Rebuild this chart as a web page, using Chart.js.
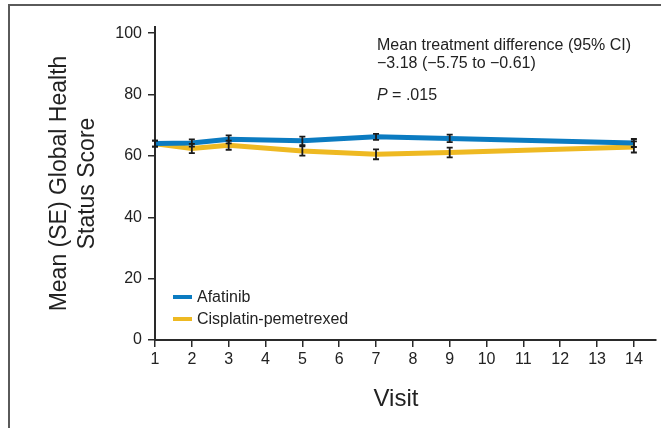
<!DOCTYPE html>
<html>
<head>
<meta charset="utf-8">
<script src="https://cdn.jsdelivr.net/npm/chart.js@4"></script>
<style>
  html, body { margin: 0; padding: 0; background: #fff; }
  #wrap { position: relative; width: 661px; height: 428px; font-family: "Liberation Sans", Arial, sans-serif; color: #222; }
  #chart { position: absolute; left: 0; top: 0; }
  .note { position: absolute; left: 377px; font-size: 16px; line-height: 18px; white-space: nowrap; }
  .leg { position: absolute; left: 173px; font-size: 16px; line-height: 18px; white-space: nowrap; }
  .leg i { display: inline-block; width: 19px; height: 4px; vertical-align: middle; margin-right: 5px; margin-top: -2px; }
  #xtitle { position: absolute; top: 384px; left: 346px; width: 100px; text-align: center; font-size: 24px; line-height: 28px; }
</style>
</head>
<body>
<div id="wrap">
  <canvas id="chart" width="661" height="428"></canvas>
  <div class="note" style="top: 36px;">Mean treatment difference (95% CI)</div>
  <div class="note" style="top: 54px;">&minus;3.18 (&minus;5.75 to &minus;0.61)</div>
  <div class="note" style="top: 86px;"><span style="font-style: italic;">P</span> = .015</div>
  <div class="leg" style="top: 288px;"><i style="background: #0b7bc1;"></i>Afatinib</div>
  <div class="leg" style="top: 310px;"><i style="background: #eeb922;"></i>Cisplatin-pemetrexed</div>
  <div id="xtitle">Visit</div>
</div>
<script>
// visits where the questionnaire was scored
const visits = [1, 2, 3, 5, 7, 9, 14];
const afatinibMean = [64.0, 64.2, 65.4, 64.9, 66.2, 65.7, 64.2];
const afatinibSE = [1.0, 1.2, 1.3, 1.4, 1.0, 1.2, 1.3];
const cisplatinMean = [64.0, 62.4, 63.5, 61.6, 60.5, 61.1, 62.9];
const cisplatinSE = [1.0, 1.5, 1.5, 1.5, 1.6, 1.6, 1.8];
const xTicks = [1, 2, 3, 4, 5, 6, 7, 8, 9, 10, 11, 12, 13, 14];
const yTicks = [0, 20, 40, 60, 80, 100];

const blue = "#0b7bc1";
const yellow = "#eeb922";
const axisColor = "#2a2a2a";

const toPoints = (xs, ys) => xs.map((x, i) => ({ x: x, y: ys[i] }));

// SE whiskers, drawn through the chart scales
const errorBars = {
  id: "errorBars",
  afterDatasetsDraw(chart) {
    const ctx = chart.ctx;
    const xs = chart.scales.x, ys = chart.scales.y;
    const sets = [[afatinibMean, afatinibSE], [cisplatinMean, cisplatinSE]];
    ctx.save();
    ctx.strokeStyle = "#1a1a1a";
    ctx.lineWidth = 1.8;
    sets.forEach(([m, se]) => {
      visits.forEach((v, i) => {
        const px = xs.getPixelForValue(v);
        const top = ys.getPixelForValue(m[i] + se[i]);
        const bot = ys.getPixelForValue(m[i] - se[i]);
        ctx.beginPath();
        ctx.moveTo(px, top); ctx.lineTo(px, bot);
        ctx.moveTo(px - 3, top); ctx.lineTo(px + 3, top);
        ctx.moveTo(px - 3, bot); ctx.lineTo(px + 3, bot);
        ctx.stroke();
      });
    });
    ctx.restore();
  }
};

// figure frame (top and left edges)
const frame = {
  id: "frame",
  beforeDraw(chart) {
    const ctx = chart.ctx;
    ctx.save();
    ctx.strokeStyle = "#5a5a5a";
    ctx.lineWidth = 2;
    ctx.beginPath();
    ctx.moveTo(9, 428); ctx.lineTo(9, 5); ctx.lineTo(661, 5);
    ctx.stroke();
    ctx.restore();
  }
};

Chart.defaults.font.family = '"Liberation Sans", Arial, sans-serif';
Chart.defaults.color = "#222";

new Chart(document.getElementById("chart"), {
  type: "line",
  data: {
    datasets: [{
      label: "Afatinib",
      data: toPoints(visits, afatinibMean),
      borderColor: blue,
      backgroundColor: blue,
      borderWidth: 5,
      pointRadius: 0,
      tension: 0
    }, {
      label: "Cisplatin-pemetrexed",
      data: toPoints(visits, cisplatinMean),
      borderColor: yellow,
      backgroundColor: yellow,
      borderWidth: 5,
      pointRadius: 0,
      tension: 0
    }]
  },
  options: {
    responsive: false,
    animation: false,
    layout: { padding: { top: 27, right: 5, left: 28, bottom: 0 } },
    plugins: {
      legend: { display: false },
      tooltip: { enabled: false }
    },
    scales: {
      x: {
        type: "linear",
        min: 1,
        max: 14.6,
        afterBuildTicks: (s) => { s.ticks = xTicks.map(v => ({ value: v })); },
        afterFit: (s) => { s.height = 88; },
        grid: { drawOnChartArea: false, drawTicks: true, tickLength: 7, color: axisColor, lineWidth: 1.5 },
        border: { display: true, color: axisColor, width: 2 },
        ticks: { font: { size: 16 }, padding: 3, maxRotation: 0, autoSkip: false }
      },
      y: {
        min: 0,
        max: 102,
        afterBuildTicks: (s) => { s.ticks = yTicks.map(v => ({ value: v })); },
        afterFit: (s) => { s.width = 155 - 28; },
        grid: { drawOnChartArea: false, drawTicks: true, tickLength: 7, color: axisColor, lineWidth: 1.5 },
        border: { display: true, color: axisColor, width: 2 },
        ticks: { font: { size: 16 }, padding: 6 },
        title: { display: true, text: ["Mean (SE) Global Health", "Status Score"], font: { size: 23, lineHeight: 1.25 }, padding: { top: 17, bottom: 0 } }
      }
    }
  },
  plugins: [frame, errorBars]
});
</script>
</body>
</html>
